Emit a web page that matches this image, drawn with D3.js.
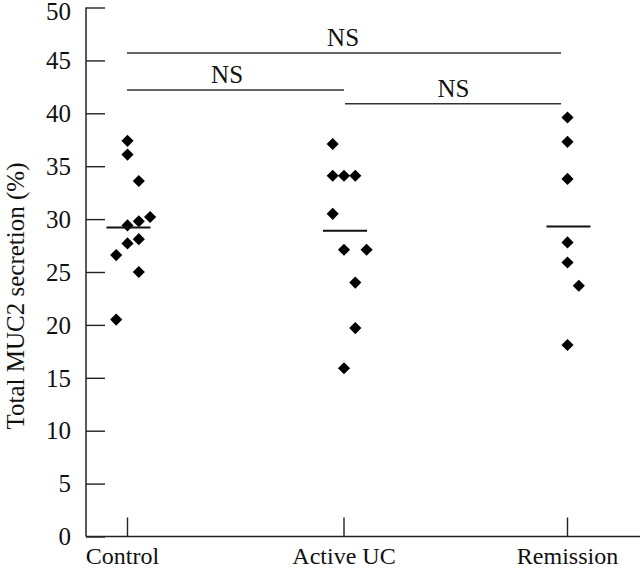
<!DOCTYPE html>
<html><head><meta charset="utf-8">
<script src="https://cdn.jsdelivr.net/npm/d3@7"></script>
<style>html,body{margin:0;padding:0;background:#fff}svg{display:block}</style>
</head><body>
<svg id="c" width="640" height="568"></svg>
<script>
const categories = ["Control", "Active UC", "Remission"];
const controlValues = [37.4, 36.1, 33.6, 30.2, 29.8, 29.4, 28.1, 27.7, 26.6, 25.0, 20.5];
const controlSlots  = [0, 0, 1, 2, 1, 0, 1, 0, -1, 1, -1];
const activeValues  = [37.1, 34.1, 34.1, 34.1, 30.5, 27.1, 27.1, 24.0, 19.7, 15.9];
const activeSlots   = [-1, -1, 0, 1, -1, 0, 2, 1, 1, 0];
const remissionValues = [39.6, 37.3, 33.8, 27.8, 25.9, 23.7, 18.1];
const remissionSlots  = [0, 0, 0, 0, 0, 1, 0];
const meanValues = [29.2, 28.9, 29.3];
const yTicks = [0, 5, 10, 15, 20, 25, 30, 35, 40, 45, 50];
const comparisons = [
  {from: 0, to: 2, y: 45.7, label: "NS"},
  {from: 0, to: 1, y: 42.2, label: "NS"},
  {from: 1, to: 2, y: 40.9, label: "NS"}
];
const yTitle = "Total MUC2 secretion (%)";

const FONT = "'Liberation Serif','Times New Roman',serif";
const svg = d3.select("#c");
const y = d3.scaleLinear().domain([0, 50]).range([536.5, 7.5]);
const x = d3.scaleOrdinal().domain(categories).range([127.5, 344, 567.5]);
const slotW = 11.3;
const axisX = 86, axisRight = 640;

// y axis
const yAxis = d3.axisRight(y).tickValues(yTicks).tickSize(19).tickFormat("");
const gy = svg.append("g").attr("transform", `translate(${axisX},0)`).call(yAxis);
gy.select(".domain").remove();
gy.selectAll(".tick line").attr("stroke", "#222").attr("stroke-width", 1.4);
svg.append("line").attr("x1", axisX).attr("x2", axisX).attr("y1", y(50)).attr("y2", y(0))
  .attr("stroke", "#222").attr("stroke-width", 1.5);
svg.append("g").selectAll("text").data(yTicks).join("text")
  .attr("x", axisX - 15).attr("y", d => y(d)).attr("dy", d => d === 50 ? "0.5em" : "0.35em")
  .attr("text-anchor", "end").attr("font-family", FONT).attr("font-size", 25)
  .attr("fill", "#111").text(d => d);

// x axis
svg.append("line").attr("x1", axisX).attr("x2", axisRight).attr("y1", y(0)).attr("y2", y(0))
  .attr("stroke", "#222").attr("stroke-width", 1.5);
svg.append("g").selectAll("line").data(categories).join("line")
  .attr("x1", d => x(d)).attr("x2", d => x(d)).attr("y1", y(0)).attr("y2", y(0) - 19)
  .attr("stroke", "#222").attr("stroke-width", 1.4);
const labelShift = [-5, 0, 0];
svg.append("g").selectAll("text").data(categories).join("text")
  .attr("x", (d, i) => x(d) + labelShift[i]).attr("y", 564).attr("text-anchor", "middle")
  .attr("font-family", FONT).attr("font-size", 24).attr("fill", "#111").text(d => d);

// y title
svg.append("text").attr("transform", `translate(24,${(y(0) + y(50)) / 2 + 24}) rotate(-90)`)
  .attr("text-anchor", "middle").attr("font-family", FONT).attr("font-size", 25)
  .attr("fill", "#111").text(yTitle);

// points
const groups = [
  {cat: categories[0], vals: controlValues, slots: controlSlots},
  {cat: categories[1], vals: activeValues, slots: activeSlots},
  {cat: categories[2], vals: remissionValues, slots: remissionSlots}
];
const pts = groups.flatMap(g => g.vals.map((v, i) => ({cat: g.cat, v, s: g.slots[i]})));
const diamond = d3.symbol().type(d3.symbolSquare).size(74)();
svg.append("g").selectAll("path").data(pts).join("path")
  .attr("d", diamond)
  .attr("transform", d => `translate(${x(d.cat) + d.s * slotW},${y(d.v)}) rotate(45)`)
  .attr("fill", "#000");

// mean lines
svg.append("g").selectAll("line").data(meanValues).join("line")
  .attr("x1", (d, i) => x(categories[i]) - 21).attr("x2", (d, i) => x(categories[i]) + 23)
  .attr("y1", d => y(d)).attr("y2", d => y(d))
  .attr("stroke", "#111").attr("stroke-width", 2);

// comparison lines
const labelFrac = [0.49, 0.46, 0.49];
const cg = svg.append("g");
cg.selectAll("line").data(comparisons).join("line")
  .attr("x1", d => x(categories[d.from]) + (d.from === 1 ? 1 : -0.5))
  .attr("x2", d => x(categories[d.to]) - (d.to === 2 ? 6.5 : 0))
  .attr("y1", d => y(d.y)).attr("y2", d => y(d.y))
  .attr("stroke", "#333").attr("stroke-width", 1.4);
cg.selectAll("text").data(comparisons).join("text")
  .attr("x", (d, i) => {
    const a = x(categories[d.from]), b = x(categories[d.to]);
    return a + (b - a) * labelFrac[i];
  })
  .attr("y", d => y(d.y) - 7).attr("text-anchor", "middle")
  .attr("font-family", FONT).attr("font-size", 25).attr("fill", "#111").text(d => d.label);
</script>
</body></html>
